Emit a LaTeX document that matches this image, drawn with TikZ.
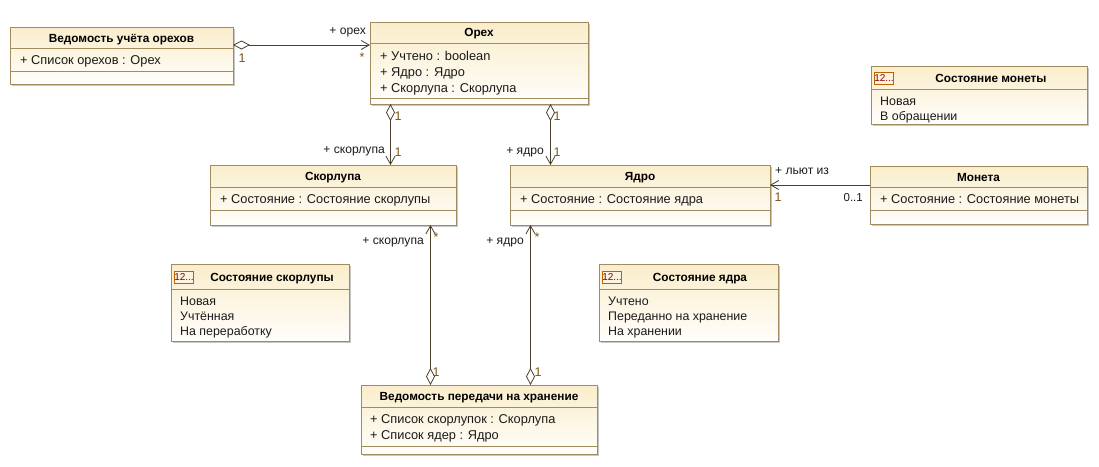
\documentclass[tikz,border=0pt]{standalone}
\usepackage{fontspec}
\setmainfont{Liberation Sans}
\usetikzlibrary{arrows.meta,shadows}
\definecolor{umlborder}{HTML}{A08C5F}
\definecolor{umltop}{HTML}{FAEDCB}
\definecolor{umlbot}{HTML}{FFFEFB}
\definecolor{umlline}{HTML}{4A3F2A}
\definecolor{umlmult}{HTML}{7A5418}
\definecolor{umltext}{HTML}{1A1A1A}
\tikzset{
  umlbox/.style={draw=umlborder,line width=1pt,rectangle,inner sep=0pt,outer sep=0pt,top color=umltop,bottom color=umlbot,shade,
    drop shadow={shadow xshift=2pt,shadow yshift=-2pt,fill=black,opacity=.22}},
  sepline/.style={draw=umlborder,line width=1pt},
  fixedtext/.style={inner sep=0pt,text height=9pt,text depth=3pt,yshift=-1pt},
  title/.style={fixedtext,font=\fontsize{11.8}{14}\selectfont\bfseries,text=black,anchor=center},
  attr/.style={fixedtext,font=\fontsize{12.8}{14}\selectfont,text=umltext,anchor=west},
  lit/.style={fixedtext,font=\fontsize{12.4}{14}\selectfont,text=umltext,anchor=west},
  rolelabel/.style={fixedtext,font=\fontsize{12.1}{14}\selectfont,text=umltext},
  multlabel/.style={fixedtext,font=\fontsize{12.5}{14}\selectfont,text=umlmult},
  assoc/.style={draw=umlline,line width=1pt},
  agg/.tip={Diamond[open,length=17pt,width=9pt,line width=.8pt]},
  barb/.tip={Straight Barb[length=8pt,width=9pt,line width=.8pt]},
  enumicon/.style={draw=orange!75!black,fill=umltop!60,line width=1pt,inner sep=0pt,minimum width=18pt,minimum height=12pt,
    font=\fontsize{10}{10}\selectfont,text=red!50!black},
}
\newcommand{\umlnode}[5]{% name x0 y0 x1 y1
  \pgfmathsetmacro{\umlCx}{(#2+#4)/2}\pgfmathsetmacro{\umlCy}{(#3+#5)/2}
  \pgfmathsetmacro{\umlW}{#4-#2}\pgfmathsetmacro{\umlH}{#5-#3}
  \node[umlbox,minimum width=\umlW pt,minimum height=\umlH pt] (#1) at (\umlCx,\umlCy) {};
}
\newcommand{\sepat}[2]{\draw[sepline] (#1.west |- 0,#2) -- (#1.east |- 0,#2);}
\begin{document}
\begin{tikzpicture}[x=1pt,y=-1pt]
\useasboundingbox (0,0) rectangle (1099,466);
\fill[white] (0,0) rectangle (1099,466);

\umlnode{vuo}{10}{27}{233}{84}
\sepat{vuo}{48}\sepat{vuo}{71}
\node[title] (vuoT) at (121.5,38) {Ведомость учёта орехов};
\node[attr] (vuoA) at (20,60) {+ Список орехов : Орех};

\umlnode{orex}{370}{22}{588}{104}
\sepat{orex}{43}\sepat{orex}{98}
\node[title] (orexT) at (479,32) {Орех};
\node[attr] (orexA) at (380,56) {+ Учтено : boolean};
\node[attr] (orexB) at (380,72) {+ Ядро : Ядро};
\node[attr] (orexC) at (380,88) {+ Скорлупа : Скорлупа};

\umlnode{skor}{210}{165}{456}{225}
\sepat{skor}{187}\sepat{skor}{210}
\node[title] (skorT) at (333,176) {Скорлупа};
\node[attr] (skorA) at (220,199) {+ Состояние : Состояние скорлупы};

\umlnode{yadro}{510}{165}{770}{225}
\sepat{yadro}{187}\sepat{yadro}{210}
\node[title] (yadroT) at (640,176) {Ядро};
\node[attr] (yadroA) at (520,199) {+ Состояние : Состояние ядра};

\umlnode{moneta}{870}{166}{1087}{224}
\sepat{moneta}{187}\sepat{moneta}{210}
\node[title] (monetaT) at (978.5,177) {Монета};
\node[attr] (monetaA) at (880,199) {+ Состояние : Состояние монеты};

\umlnode{smon}{871}{66}{1087}{124}
\sepat{smon}{89}
\node[enumicon] (smonI) at (884,78) {12...};
\node[title] (smonT) at (991,78) {Состояние монеты};
\node[lit] (smonA) at (880,101) {Новая};
\node[lit] (smonB) at (880,116) {В обращении};

\umlnode{sskor}{171}{264}{349}{341}
\sepat{sskor}{289}
\node[enumicon] (sskorI) at (184,277) {12...};
\node[title] (sskorT) at (272,277) {Состояние скорлупы};
\node[lit] (sskorA) at (180,301) {Новая};
\node[lit] (sskorB) at (180,316) {Учтённая};
\node[lit] (sskorC) at (180,331) {На переработку};

\umlnode{syad}{599}{264}{778}{341}
\sepat{syad}{289}
\node[enumicon] (syadI) at (612,277) {12...};
\node[title] (syadT) at (700,277) {Состояние ядра};
\node[lit] (syadA) at (608,301) {Учтено};
\node[lit] (syadB) at (608,316) {Переданно на хранение};
\node[lit] (syadC) at (608,331) {На хранении};

\umlnode{vph}{361}{385}{597}{454}
\sepat{vph}{407}\sepat{vph}{446}
\node[title] (vphT) at (479,396) {Ведомость передачи на хранение};
\node[attr] (vphA) at (370,419) {+ Список скорлупок : Скорлупа};
\node[attr] (vphB) at (370,435) {+ Список ядер : Ядро};

% connectors
\draw[assoc,{agg}-{barb}] (vuo.east |- 0,45) -- (orex.west |- 0,45);
\draw[assoc,{agg}-{barb}] (orex.south -| 390.5,0) -- (skor.north -| 390.5,0);
\draw[assoc,{agg}-{barb}] (orex.south -| 550.5,0) -- (yadro.north -| 550.5,0);
\draw[assoc,-{barb}] (moneta.west |- 0,185) -- (yadro.east |- 0,185);
\draw[assoc,{agg}-{barb}] (vph.north -| 430.5,0) -- (skor.south -| 430.5,0);
\draw[assoc,{agg}-{barb}] (vph.north -| 530.5,0) -- (yadro.south -| 530.5,0);

% labels
\node[rolelabel,anchor=east] (l1) at (366,30) {+ орех};
\node[multlabel] (m1) at (362,57) {*};
\node[multlabel] (m2) at (242,58) {1};
\node[rolelabel,anchor=east] (l2) at (385,149) {+ скорлупа};
\node[multlabel] (m3) at (398,116) {1};
\node[multlabel] (m4) at (398,152) {1};
\node[rolelabel,anchor=east] (l3) at (544,150) {+ ядро};
\node[multlabel] (m5) at (557,116) {1};
\node[multlabel] (m6) at (557,152) {1};
\node[rolelabel,anchor=west] (l4) at (775,170) {+ льют из};
\node[multlabel] (m7) at (778,197) {1};
\node[rolelabel,anchor=east,font=\fontsize{11.5}{14}\selectfont] (m8) at (863,197) {0..1};
\node[rolelabel,anchor=east] (l5) at (424,240) {+ скорлупа};
\node[multlabel] (m9) at (436,237) {*};
\node[rolelabel,anchor=east] (l6) at (524,240) {+ ядро};
\node[multlabel] (m10) at (537,237) {*};
\node[multlabel] (m11) at (436,372) {1};
\node[multlabel] (m12) at (538,372) {1};
\end{tikzpicture}
\end{document}
